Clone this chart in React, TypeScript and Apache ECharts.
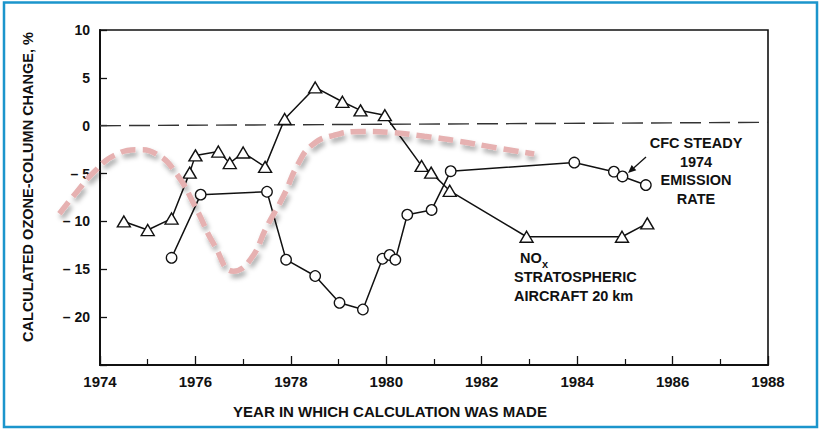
import React, { useEffect, useRef } from "react";
import * as echarts from "echarts";

// NOx stratospheric aircraft 20 km (triangles)
const noxYears = [1974.5, 1975.0, 1975.5, 1975.88, 1976.0, 1976.48, 1976.72, 1977.0, 1977.46, 1977.87, 1978.51, 1979.08, 1979.46, 1979.97, 1980.74, 1980.94, 1981.33, 1982.94, 1984.94, 1985.47];
const noxValues = [-10, -10.9, -9.7, -4.9, -3.1, -2.7, -3.9, -2.8, -4.3, 0.7, 4.0, 2.5, 1.6, 1.1, -4.2, -4.9, -6.8, -11.6, -11.6, -10.2];

// CFC steady 1974 emission rate (circles)
const cfcYears = [1975.5, 1976.11, 1977.5, 1977.9, 1978.51, 1979.02, 1979.51, 1979.92, 1980.07, 1980.19, 1980.44, 1980.95, 1981.35, 1983.94, 1984.77, 1984.95, 1985.44];
const cfcValues = [-13.8, -7.2, -6.9, -14.0, -15.7, -18.5, -19.2, -13.9, -13.5, -14.0, -9.3, -8.8, -4.75, -3.85, -4.8, -5.3, -6.2];

// Pink hand-drawn dashed curve
const trendYears = [1973.15, 1973.5, 1973.9, 1974.3, 1974.8, 1975.2, 1975.6, 1976.0, 1976.4, 1976.8, 1977.15, 1977.5, 1977.85, 1978.15, 1978.45, 1978.9, 1979.5, 1980.1, 1980.8, 1981.5, 1982.3, 1983.1];
const trendValues = [-9.2, -7.0, -4.7, -3.1, -2.5, -3.0, -5.0, -8.5, -12.5, -15.2, -14.0, -10.5, -7.3, -4.0, -2.0, -1.0, -0.6, -0.7, -1.1, -1.6, -2.3, -2.95];

// Zero reference line (slightly tilted in the scan)
const zeroYears = [1974, 1988];
const zeroValues = [0, 0.35];

const xTickLabels = ["1974", "1976", "1978", "1980", "1982", "1984", "1986", "1988"];
const yTickLabels = ["10", "5", "0", "– 5", "– 10", "– 15", "– 20"];

const FONT = "'Liberation Sans', Arial, sans-serif";

function zip(xs: number[], ys: number[]) {
  return xs.map((x, i) => [x, ys[i]]);
}

export default function App() {
  const ref = useRef<HTMLDivElement>(null);
  useEffect(() => {
    if (!ref.current) return;
    const chart = echarts.init(ref.current, null, { renderer: "svg" });

    const gridLeft = 100;
    const gridRight = 52;
    const gridTop = 30;
    const gridBottom = 64;
    const plotW = 820 - gridLeft - gridRight;
    const pxPerYear = plotW / 14;

    // arrow head geometry
    const tail = [646, 157];
    const tip = [628, 173];
    const dx = tip[0] - tail[0];
    const dy = tip[1] - tail[1];
    const len = Math.sqrt(dx * dx + dy * dy);
    const ux = dx / len;
    const uy = dy / len;
    const hl = 8;
    const hw = 3.5;
    const bx = tip[0] - ux * hl;
    const by = tip[1] - uy * hl;

    const option: any = {
      animation: false,
      backgroundColor: "#ffffff",
      grid: [
        {
          left: gridLeft,
          right: gridRight,
          top: gridTop,
          bottom: gridBottom,
          show: true,
          borderColor: "#111",
          borderWidth: 1.6,
          backgroundColor: "transparent",
        },
        {
          left: gridLeft - 2 * pxPerYear,
          right: gridRight,
          top: gridTop,
          bottom: gridBottom,
          show: false,
        },
      ],
      xAxis: [
        {
          type: "value",
          gridIndex: 0,
          min: 1974,
          max: 1988,
          interval: 2,
          axisLine: { show: true, onZero: false, lineStyle: { color: "#111", width: 2 } },
          axisTick: { show: true, inside: true, length: 9, lineStyle: { color: "#111", width: 1.3 } },
          minorTick: { show: true, splitNumber: 2, length: 6, lineStyle: { color: "#111", width: 1.2 } },
          splitLine: { show: false },
          axisLabel: {
            margin: 9,
            color: "#111",
            fontFamily: FONT,
            fontWeight: "bold",
            fontSize: 15,
            formatter: (v: number) => {
              const i = Math.round((v - 1974) / 2);
              return xTickLabels[i] ?? "";
            },
          },
        },
        {
          type: "value",
          gridIndex: 1,
          min: 1972,
          max: 1988,
          show: false,
        },
      ],
      yAxis: [
        {
          type: "value",
          gridIndex: 0,
          min: -25,
          max: 10,
          interval: 5,
          axisLine: { show: true, onZero: false, lineStyle: { color: "#111", width: 2 } },
          axisTick: {
            show: true,
            inside: true,
            length: 7,
            lineStyle: { color: "#111", width: 1.3 },
          },
          splitLine: { show: false },
          axisLabel: {
            margin: 10,
            color: "#111",
            fontFamily: FONT,
            fontWeight: "bold",
            fontSize: 14,
            formatter: (v: number) => {
              if (v <= -25) return "";
              const i = Math.round((10 - v) / 5);
              return yTickLabels[i] ?? "";
            },
          },
        },
        {
          type: "value",
          gridIndex: 1,
          min: -25,
          max: 10,
          show: false,
        },
      ],
      series: [
        {
          type: "line",
          name: "zero",
          data: zip(zeroYears, zeroValues),
          symbol: "none",
          lineStyle: { color: "#333", width: 1.4, type: [21, 8] },
          z: 1,
        },
        {
          type: "line",
          name: "NOx",
          data: zip(noxYears, noxValues),
          symbol: "triangle",
          symbolSize: [13, 11],
          lineStyle: { color: "#111", width: 1.5 },
          itemStyle: { color: "#fff", borderColor: "#111", borderWidth: 1.4 },
          z: 3,
        },
        {
          type: "line",
          name: "CFC",
          data: zip(cfcYears, cfcValues),
          symbol: "circle",
          symbolSize: 10.5,
          lineStyle: { color: "#111", width: 1.5 },
          itemStyle: { color: "#fff", borderColor: "#111", borderWidth: 1.3 },
          z: 3,
        },
        {
          type: "line",
          name: "trend",
          xAxisIndex: 1,
          yAxisIndex: 1,
          data: zip(trendYears, trendValues),
          symbol: "none",
          smooth: 0.5,
          clip: false,
          lineStyle: {
            color: "#e6b1b1",
            width: 5.5,
            type: [15, 7],
            cap: "butt",
            shadowColor: "rgba(0,0,0,0.35)",
            shadowBlur: 5,
            shadowOffsetX: 2,
            shadowOffsetY: 4,
          },
          z: 4,
        },
      ],
      graphic: [
        {
          type: "rect",
          shape: { x: 4, y: 2.5, width: 813, height: 424.5 },
          style: { fill: "none", stroke: "#1b95cc", lineWidth: 2.5 },
          silent: true,
        },
        {
          type: "text",
          x: 28,
          y: 187,
          rotation: Math.PI / 2,
          style: {
            text: "CALCULATED OZONE-COLUMN CHANGE, %",
            fill: "#111",
            font: `bold 14.5px ${FONT}`,
            align: "center",
            verticalAlign: "middle",
          },
        },
        {
          type: "text",
          x: 390,
          y: 411,
          style: {
            text: "YEAR IN WHICH CALCULATION WAS MADE",
            fill: "#111",
            font: `bold 15px ${FONT}`,
            align: "center",
            verticalAlign: "middle",
          },
        },
        {
          type: "text",
          x: 696,
          y: 171,
          style: {
            text: "CFC STEADY\n1974\nEMISSION\nRATE",
            fill: "#111",
            font: `bold 14.5px ${FONT}`,
            lineHeight: 18.8,
            align: "center",
            verticalAlign: "middle",
          },
        },
        {
          type: "text",
          x: 520,
          y: 258,
          style: { text: "NO", fill: "#111", font: `bold 14.5px ${FONT}`, align: "left", verticalAlign: "middle" },
        },
        {
          type: "text",
          x: 542,
          y: 264,
          style: { text: "x", fill: "#111", font: `bold 11px ${FONT}`, align: "left", verticalAlign: "middle" },
        },
        {
          type: "text",
          x: 514,
          y: 268,
          style: {
            text: "STRATOSPHERIC\nAIRCRAFT 20 km",
            fill: "#111",
            font: `bold 14.5px ${FONT}`,
            lineHeight: 18.5,
            align: "left",
            verticalAlign: "top",
          },
        },
        {
          type: "line",
          shape: { x1: tail[0], y1: tail[1], x2: bx, y2: by },
          style: { stroke: "#111", lineWidth: 1.3 },
        },
        {
          type: "polygon",
          shape: {
            points: [
              [tip[0], tip[1]],
              [bx + uy * hw, by - ux * hw],
              [bx - uy * hw, by + ux * hw],
            ],
          },
          style: { fill: "#111" },
        },
      ],
    };
    chart.setOption(option);
    return () => chart.dispose();
  }, []);

  return (
    <div
      ref={ref}
      style={{ position: "fixed", left: 0, top: 0, width: 820, height: 429, background: "#fff" }}
    />
  );
}
